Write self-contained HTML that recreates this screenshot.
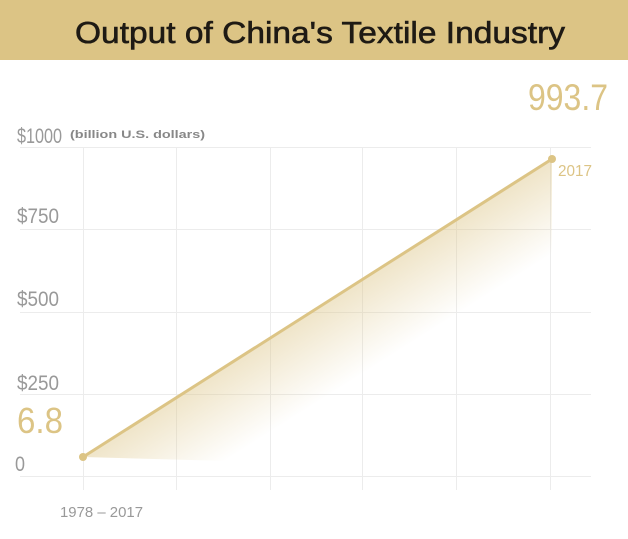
<!DOCTYPE html>
<html><head><style>
body{margin:0;width:628px;height:534px;background:#fff;overflow:hidden;font-family:"Liberation Sans",sans-serif}
</style></head><body>
<svg width="628" height="534" xmlns="http://www.w3.org/2000/svg">
<defs>
<linearGradient id="g" gradientUnits="userSpaceOnUse" x1="317" y1="308" x2="360" y2="376">
<stop offset="0" stop-color="#dcc485" stop-opacity="0.45"/>
<stop offset="1" stop-color="#dcc485" stop-opacity="0"/>
</linearGradient>
</defs>
<rect x="0" y="0" width="628" height="60" fill="#dcc485"/>
<text x="75" y="43" font-size="31" fill="#1e1a14" stroke="#1e1a14" stroke-width="0.6" textLength="490" lengthAdjust="spacingAndGlyphs">Output of China's Textile Industry</text>
<g stroke="#ececec" stroke-width="1">
<line x1="20" y1="147.5" x2="591" y2="147.5"/>
<line x1="20" y1="229.5" x2="591" y2="229.5"/>
<line x1="20" y1="312.5" x2="591" y2="312.5"/>
<line x1="20" y1="394.5" x2="591" y2="394.5"/>
<line x1="20" y1="476.5" x2="591" y2="476.5"/>
<line x1="83.5" y1="147" x2="83.5" y2="490"/>
<line x1="176.5" y1="147" x2="176.5" y2="490"/>
<line x1="270.5" y1="147" x2="270.5" y2="490"/>
<line x1="362.5" y1="147" x2="362.5" y2="490"/>
<line x1="456.5" y1="147" x2="456.5" y2="490"/>
<line x1="550.5" y1="147" x2="550.5" y2="490"/>
</g>
<polygon points="83,457 552,159 552,470" fill="url(#g)"/>
<line x1="83" y1="457" x2="552" y2="159" stroke="#dcc485" stroke-width="3"/>
<circle cx="83" cy="457" r="4" fill="#dcc485"/>
<circle cx="552" cy="159" r="4" fill="#dcc485"/>
<g fill="#999">
<text x="17" y="143" font-size="21" textLength="45" lengthAdjust="spacingAndGlyphs">$1000</text>
<text x="70" y="138" font-size="11" font-weight="bold" fill="#888" textLength="135" lengthAdjust="spacingAndGlyphs">(billion U.S. dollars)</text>
<text x="17" y="223" font-size="21" textLength="42" lengthAdjust="spacingAndGlyphs">$750</text>
<text x="17" y="306" font-size="21" textLength="42" lengthAdjust="spacingAndGlyphs">$500</text>
<text x="17" y="390" font-size="21" textLength="42" lengthAdjust="spacingAndGlyphs">$250</text>
<text x="15" y="471" font-size="21" textLength="10" lengthAdjust="spacingAndGlyphs">0</text>
<text x="60" y="517" font-size="15" textLength="83" lengthAdjust="spacingAndGlyphs">1978 – 2017</text>
</g>
<g fill="#dcc485">
<text x="528" y="110" font-size="37" textLength="80" lengthAdjust="spacingAndGlyphs">993.7</text>
<text x="558" y="176" font-size="16" textLength="34" lengthAdjust="spacingAndGlyphs">2017</text>
<text x="17" y="433" font-size="36" textLength="46" lengthAdjust="spacingAndGlyphs">6.8</text>
</g>
</svg>
</body></html>
